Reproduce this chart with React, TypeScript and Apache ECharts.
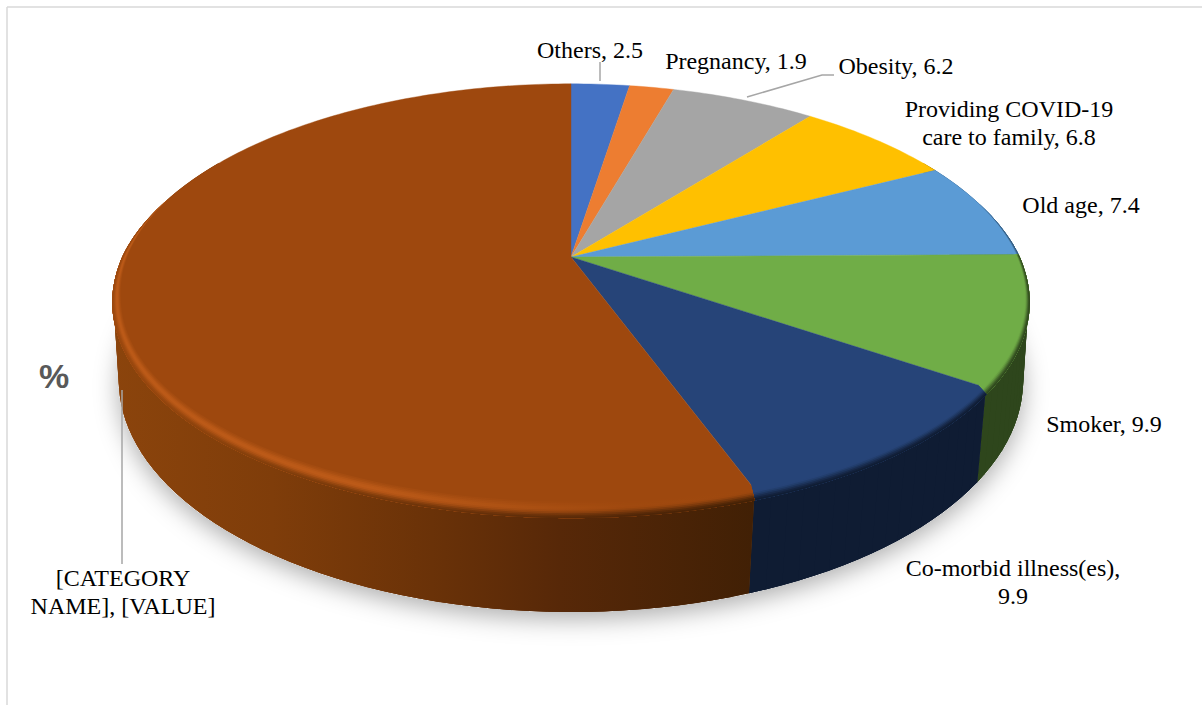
import React, { useEffect, useRef } from "react";
import * as echarts from "echarts";

const categories = ["Others", "Pregnancy", "Obesity", "Providing COVID-19 care to family", "Old age", "Smoker", "Co-morbid illness(es)", "[CATEGORY NAME]"];
const values = [2.5, 1.9, 6.2, 6.8, 7.4, 9.9, 9.9, 55.4];
const faceColors = ["#4472C4", "#ED7D31", "#A5A5A5", "#FFC000", "#5B9BD5", "#70AD47", "#264478", "#9E480E"];
const labelTexts = ["Others, 2.5", "Pregnancy, 1.9", "Obesity, 6.2", "Providing COVID-19\ncare to family, 6.8", "Old age, 7.4", "Smoker, 9.9", "Co-morbid illness(es),\n9.9", "[CATEGORY\nNAME], [VALUE]"];
const labelCenters = [[590, 50], [736, 61], [896, 66], [1009, 123], [1081, 205], [1104, 424], [1013, 582], [123, 592]];
const leaderLines = [
  [[600, 62], [600, 81]],
  [[747, 97], [822, 75], [834, 75]],
  [[122, 390], [122, 564]],
];

const total = values.reduce((a, b) => a + b, 0);
const DEG = Math.PI / 180;
const TOP = { cx: 571, cy: 257, A: 447, B: 204, kx: 0.197, ky: 0.178 };
const BOT = { cx: 571, cy: 339.5, A: 445, B: 224, kx: 0.178, ky: 0.178 };

function project(g: any, t: number, r = 1): number[] {
  const x = r * Math.sin(t), y = r * Math.cos(t);
  return [g.cx + (g.A * x) / (1 + g.kx * y), g.cy - (g.B * y) / (1 + g.ky * y)];
}
function sweep(t0: number, t1: number, fn: (t: number) => number[], step = 1) {
  const n = Math.max(2, Math.ceil((t1 - t0) / (step * DEG)));
  const pts: number[][] = [];
  for (let i = 0; i <= n; i++) pts.push(fn(t0 + ((t1 - t0) * i) / n));
  return pts;
}
function range(i: number) {
  let s = 0;
  for (let j = 0; j < i; j++) s += values[j];
  return [(s / total) * 2 * Math.PI, ((s + values[i]) / total) * 2 * Math.PI];
}
const hex = (c: string) => [1, 3, 5].map((p) => parseInt(c.slice(p, p + 2), 16));
const mix = (a: number[], b: number[], f: number) => a.map((v, i) => v + (b[i] - v) * f);
const css = (c: number[]) => `rgb(${c.map((v) => Math.round(v)).join(",")})`;
const clamp = (v: number) => Math.max(0, Math.min(1, v));

const brownWall: [number, string][] = [[112, "#8B440C"], [272, "#7F3D0A"], [432, "#6A3208"], [560, "#572808"], [753, "#412005"]];
const flatWalls: Record<number, string> = { 0: "#233B66", 1: "#7B4019", 2: "#565656", 3: "#846400", 4: "#2F5170", 5: "#2E461C", 6: "#0F1C33" };
function wallAt(i: number, x: number): number[] {
  if (i !== 7) return hex(flatWalls[i]);
  for (let j = 1; j < brownWall.length; j++) {
    if (x <= brownWall[j][0]) {
      const f = clamp((x - brownWall[j - 1][0]) / (brownWall[j][0] - brownWall[j - 1][0]));
      return mix(hex(brownWall[j - 1][1]), hex(brownWall[j][1]), f);
    }
  }
  return hex(brownWall[brownWall.length - 1][1]);
}
function rimColor(i: number, f: number, x: number): number[] {
  const face = hex(faceColors[i]);
  let g = clamp((f - 0.4) / 0.6);
  g = g * g * (3 - 2 * g);
  if (i === 7) g *= 0.3 + 0.7 * clamp((x - 112) / 130);
  let c = mix(face, wallAt(i, x), g);
  if (i === 7) {
    const hl = clamp((640 - x) / 250);
    const bump = Math.exp(-Math.pow((f - 0.42) / 0.3, 2));
    c = mix(c, hex("#BC5A18"), hl * bump);
  }
  return c;
}
const fade = (t: number) => clamp((0.3 - Math.cos(t)) / 0.5);
const inner = (t: number) => project(TOP, t, 1 - 0.012 * fade(t));
const outer = (t: number) => {
  const p = project(TOP, t);
  return [p[0] + 3 * Math.sin(t) * fade(t), p[1] + 13 * Math.max(0, -Math.cos(t))];
};
const rimAt = (t: number, f: number) => {
  const a = inner(t), b = outer(t);
  return [a[0] + (b[0] - a[0]) * f, a[1] + (b[1] - a[1]) * f];
};

function renderShadow() {
  return {
    type: "polygon",
    shape: { points: sweep(0, 2 * Math.PI, (t) => project(BOT, t)) },
    style: { fill: "#ffffff", shadowBlur: 24, shadowColor: "rgba(0,0,0,0.32)", shadowOffsetY: 7 },
  };
}
function renderWall(params: any) {
  const i = params.dataIndex;
  const [s, e] = range(i);
  const t0 = Math.max(s, 60 * DEG), t1 = Math.min(e, 300 * DEG);
  if (t1 <= t0) return { type: "group", children: [] };
  const stops = brownWall.map(([x, c]) => ({ offset: (x - 112) / (753 - 112), color: c }));
  const paint = i === 7 ? new echarts.graphic.LinearGradient(112, 0, 753, 0, stops, true) : flatWalls[i];
  const tops = sweep(t0, t1, (t) => rimAt(t, 0.85), 2);
  const bots = sweep(t0, t1, (t) => project(BOT, t), 2);
  const children: any[] = [
    // the strip itself, with no inner seams
    { type: "polygon", shape: { points: tops.concat(bots.slice().reverse()) }, style: { fill: paint } },
  ];
  // overlapping quads fill the silhouette where top and bottom rims cross over
  for (let q = 0; q < tops.length - 1; q++) {
    const n = Math.min(q + 2, tops.length - 1);
    children.push({
      type: "polygon",
      shape: { points: [tops[q], tops[n], bots[n], bots[q]] },
      style: { fill: paint },
    });
  }
  return { type: "group", children };
}
function renderFace(params: any) {
  const i = params.dataIndex;
  const [s, e] = range(i);
  return {
    type: "polygon",
    shape: { points: [[TOP.cx, TOP.cy], ...sweep(s, e, (t) => project(TOP, t))] },
    style: { fill: faceColors[i], stroke: faceColors[i], lineWidth: 0.4 },
  };
}
function renderRim(params: any) {
  const i = params.dataIndex;
  const [s, e] = range(i);
  const t0 = Math.max(s, 72 * DEG), t1 = Math.min(e, 296 * DEG);
  if (t1 <= t0) return { type: "group", children: [] };
  const N = 10;
  const children: any[] = [];
  for (let b = 0; b < N; b++) {
    const f0 = b / N, fm = (b + 0.5) / N;
    const pts = sweep(t0, t1, (t) => rimAt(t, f0)).concat(sweep(t0, t1, (t) => rimAt(t, 1)).reverse());
    const xs = pts.map((p) => p[0]);
    const x0 = Math.min(...xs), x1 = Math.max(...xs);
    const stops = [0, 0.2, 0.4, 0.6, 0.8, 1].map((o) => ({ offset: o, color: css(rimColor(i, fm, x0 + (x1 - x0) * o)) }));
    children.push({
      type: "polygon",
      shape: { points: pts },
      style: { fill: new echarts.graphic.LinearGradient(x0, 0, x1, 0, stops, true), stroke: "none" },
    });
  }
  return { type: "group", children };
}

const seriesData = values.map((v, i) => ({ name: categories[i], value: [v] }));

export default function App() {
  const ref = useRef<HTMLDivElement>(null);
  useEffect(() => {
    const chart = echarts.init(ref.current!, null, { renderer: "svg" });
    const custom = (renderItem: any, z: number, data: any[] = seriesData) => ({
      type: "custom",
      coordinateSystem: "none",
      renderItem,
      data,
      z,
      silent: true,
    });
    chart.setOption({
      animation: false,
      backgroundColor: "#ffffff",
      series: [
        custom(renderShadow, 1, [{ value: [total] }]),
        custom(renderWall, 2),
        custom(renderFace, 3),
        custom(renderRim, 4),
      ],
      graphic: [
        { type: "line", z: 50, shape: { x1: 7, y1: 7, x2: 1202, y2: 7 }, style: { stroke: "#D9D9D9", lineWidth: 1.5 } },
        { type: "line", z: 50, shape: { x1: 7, y1: 7, x2: 7, y2: 705 }, style: { stroke: "#D9D9D9", lineWidth: 1.5 } },
        ...leaderLines.map((points) => ({
          type: "polyline",
          z: 60,
          shape: { points },
          style: { stroke: "#A6A6A6", lineWidth: 1.5, fill: "none" },
        })),
        {
          type: "text",
          z: 70,
          x: 54,
          y: 376,
          style: {
            text: "%",
            fontFamily: "Liberation Sans",
            fontSize: 34,
            fontWeight: "bold",
            fill: "#595959",
            textAlign: "center",
            textVerticalAlign: "middle",
          },
        },
        ...labelTexts.map((text, i) => ({
          type: "text",
          z: 70,
          x: labelCenters[i][0],
          y: labelCenters[i][1],
          style: {
            text,
            fontFamily: "Liberation Serif",
            fontSize: 24,
            lineHeight: 28,
            fill: "#000000",
            textAlign: "center",
            textVerticalAlign: "middle",
          },
        })),
      ],
    });
    return () => chart.dispose();
  }, []);
  return <div ref={ref} style={{ position: "absolute", left: 0, top: 0, width: 1202, height: 705 }} />;
}
